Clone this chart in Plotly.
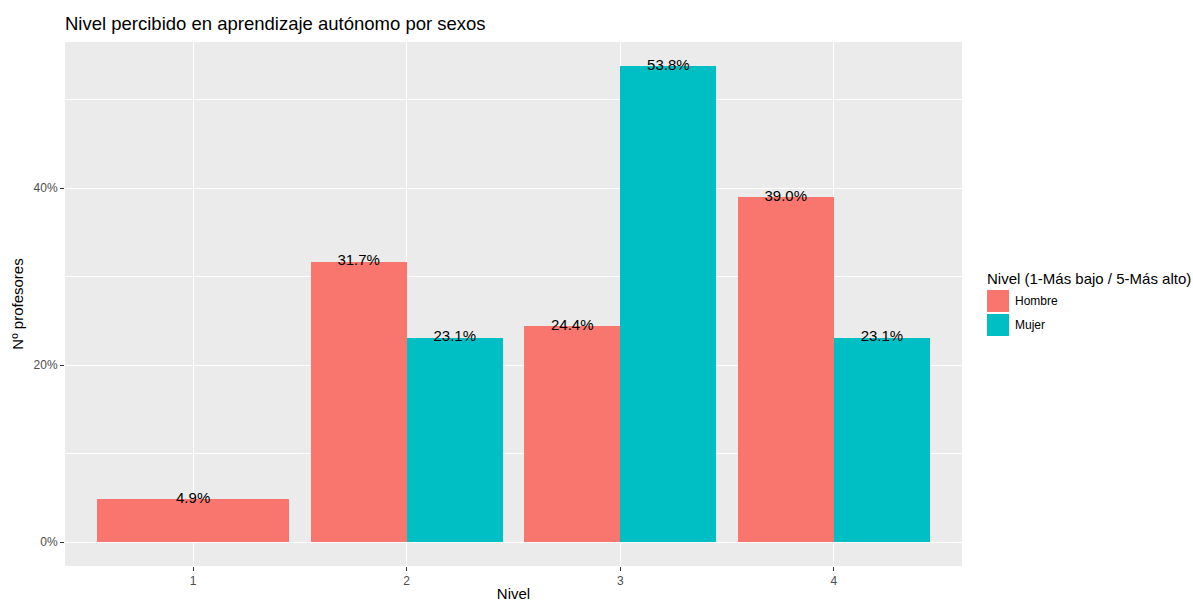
import plotly.graph_objects as go

levels = [1, 2, 3, 4]
series_names = ["Hombre", "Mujer"]
hombre = [4.9, 31.7, 24.4, 39.0]
mujer = [None, 23.1, 53.8, 23.1]
colors = ["#F8766D", "#00BFC4"]
y_ticks = [0, 20, 40]
y_tick_labels = ["0%", "20%", "40%"]

FONT = "Liberation Sans, Arial, sans-serif"
series = [hombre, mujer]

fig = go.Figure()
total_w = 0.9
for si, (name, vals) in enumerate(zip(series_names, series)):
    xs, ys, ws = [], [], []
    for li, lev in enumerate(levels):
        v = vals[li]
        if v is None:
            continue
        present = [k for k in range(len(series)) if series[k][li] is not None]
        n = len(present)
        idx = present.index(si)
        w = total_w / n
        xs.append(lev - total_w / 2 + w * (idx + 0.5))
        ys.append(v)
        ws.append(w)
    fig.add_trace(go.Bar(x=xs, y=ys, width=ws, marker=dict(color=colors[si], line=dict(width=0)),
                         name=name, showlegend=False, hoverinfo="skip"))
    fig.add_trace(go.Scatter(x=xs, y=ys, mode="text", text=[f"{v:.1f}%" for v in ys],
                             textposition="middle center", textfont=dict(family=FONT, size=15, color="black"),
                             showlegend=False, hoverinfo="skip"))

# manual ggplot-style legend
PL, PR, PT, PB = 65, 962, 42, 566
def px_x(x):
    return (x - PL) / (PR - PL)
def px_y(y):
    return (PB - y) / (PB - PT)

legend_x0 = 987
legend_top = 290
key = 22
for i, (name, c) in enumerate(zip(series_names, colors)):
    y0 = legend_top + i * (key + 2)
    fig.add_shape(type="rect", xref="paper", yref="paper",
                  x0=px_x(legend_x0), x1=px_x(legend_x0 + key),
                  y0=px_y(y0 + key), y1=px_y(y0),
                  fillcolor=c, line=dict(width=0))
    fig.add_annotation(xref="paper", yref="paper", x=px_x(legend_x0 + key + 4),
                       y=px_y(y0 + key / 2), text=name, showarrow=False,
                       xanchor="left", yanchor="middle", font=dict(family=FONT, size=12, color="black"))
fig.add_annotation(xref="paper", yref="paper", x=px_x(legend_x0 - 2),
                   y=px_y(278), text="Nivel (1-Más bajo / 5-Más alto)", showarrow=False,
                   xanchor="left", yanchor="middle", font=dict(family=FONT, size=15, color="black"))

fig.update_layout(
    width=1193, height=602,
    margin=dict(l=PL, r=1193 - PR, t=PT, b=602 - PB, autoexpand=False),
    paper_bgcolor="white", plot_bgcolor="#EBEBEB",
    barmode="overlay", bargap=0,
    title=dict(text="Nivel percibido en aprendizaje autónomo por sexos", x=PL / 1193, xanchor="left",
               xref="container", y=1 - 24 / 602, yref="container", yanchor="middle",
               font=dict(family=FONT, size=18.5, color="black")),
    font=dict(family=FONT),
    xaxis=dict(range=[0.4, 4.6], tickvals=levels, ticktext=[str(l) for l in levels],
               showgrid=True, gridcolor="white", gridwidth=1.2, zeroline=False,
               ticks="outside", ticklen=4, tickcolor="#333333", tickwidth=1,
               tickfont=dict(family=FONT, size=12, color="#4D4D4D"),
               title=dict(text="Nivel", font=dict(family=FONT, size=15, color="black"), standoff=5),
               showline=False, automargin=False),
    yaxis=dict(range=[-2.69, 56.49], tickvals=y_ticks, ticktext=y_tick_labels,
               showgrid=True, gridcolor="white", gridwidth=1.2, zeroline=False,
               ticks="outside", ticklen=4, tickcolor="#333333", tickwidth=1,
               tickfont=dict(family=FONT, size=12, color="#4D4D4D"),
               minor=dict(tickvals=[10, 30, 50], showgrid=True, gridcolor="white", gridwidth=0.6, ticks=""),
               title=dict(text="Nº profesores", font=dict(family=FONT, size=15, color="black"), standoff=6),
               showline=False, automargin=False),
)

fig.write_html("out.html", config={"displayModeBar": False},
               post_script="document.body.style.margin='0';")
